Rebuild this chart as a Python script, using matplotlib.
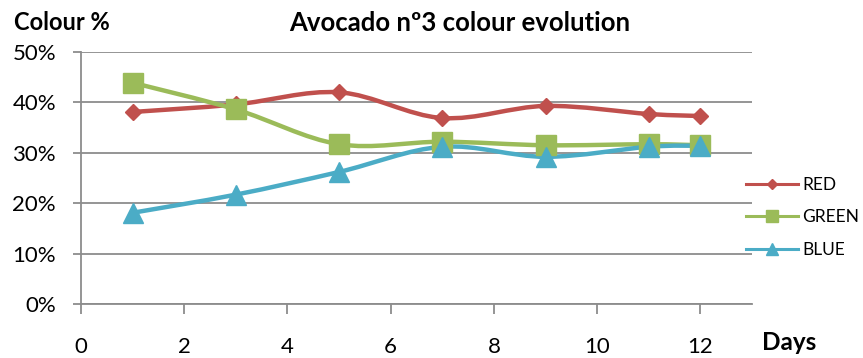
import numpy as np
import matplotlib.pyplot as plt
from matplotlib.path import Path
from matplotlib.patches import PathPatch
from matplotlib.lines import Line2D

days = [1, 3, 5, 7, 9, 11, 12]
red = [38.1, 39.6, 42.0, 36.9, 39.3, 37.7, 37.3]
green = [43.9, 38.6, 31.7, 32.2, 31.5, 31.7, 31.5]
blue = [18.1, 21.7, 26.2, 31.2, 29.2, 31.2, 31.4]

series = [
    ("RED", red, "#C0504D", "D", 8),
    ("GREEN", green, "#9BBB59", "s", 14),
    ("BLUE", blue, "#4BACC6", "^", 14),
]

plt.rcParams['font.family'] = ['Lato', 'DejaVu Sans']


def smooth_path(x, y):
    # cubic bezier through the points, same idea as a spreadsheet "smoothed line"
    pts = np.column_stack([x, y]).astype(float)
    n = len(pts)
    verts = [pts[0]]
    codes = [Path.MOVETO]
    for i in range(n - 1):
        p0 = pts[i - 1] if i > 0 else pts[i]
        p1 = pts[i]
        p2 = pts[i + 1]
        p3 = pts[i + 2] if i + 2 < n else pts[i + 1]
        c1 = p1 + (p2 - p0) / 6.0
        c2 = p2 - (p3 - p1) / 6.0
        verts += [c1, c2, p2]
        codes += [Path.CURVE4] * 3
    return Path(verts, codes)


fig = plt.figure(figsize=(8.63, 3.58), dpi=100)
ax = fig.add_axes([81 / 863, 1 - 304 / 358, (752 - 81) / 863, (304 - 52) / 358])

ax.set_xlim(0, 13)
ax.set_ylim(0, 50)
ax.set_xticks(range(0, 13, 2))
ax.set_yticks(range(0, 51, 10))
ax.set_yticklabels([f"{v}%" for v in range(0, 51, 10)])

ax.grid(axis="y", color="#8C8C8C", linewidth=1.3)
ax.set_axisbelow(True)
for s in ["top", "right"]:
    ax.spines[s].set_visible(False)
for s in ["left", "bottom"]:
    ax.spines[s].set_color("#8C8C8C")
    ax.spines[s].set_linewidth(1.3)
ax.tick_params(axis="x", length=7, width=1.3, color="#8C8C8C", labelsize=16, pad=17)
ax.tick_params(axis="y", length=6, width=1.3, color="#8C8C8C", labelsize=16, pad=12)

handles = []
for name, vals, col, mk, ms in series:
    ax.add_patch(PathPatch(smooth_path(days, vals), facecolor="none", edgecolor=col,
                           linewidth=3.2, capstyle="round", joinstyle="round", zorder=3))
    ax.plot(days, vals, linestyle="none", marker=mk, markersize=ms, color=col, zorder=4)
    handles.append(Line2D([], [], color=col, linewidth=2.2, marker=mk, markersize=ms * 0.6))

fig.legend(handles, [h[0] for h in series], loc="upper left", bbox_to_anchor=(737 / 863, 1 - 168 / 358),
           frameon=False, fontsize=12.5, handlelength=3.0, handletextpad=0.25, labelspacing=0.95,
           borderpad=0)

fig.text(460 / 863, 1 - 23 / 358, "Avocado nº3 colour evolution", ha="center", va="center",
         fontsize=18.5, fontweight="bold")
fig.text(14 / 863, 1 - 23 / 358, "Colour %", ha="left", va="center", fontsize=17, fontweight="bold")
fig.text(762 / 863, 1 - 342 / 358, "Days", ha="left", va="center", fontsize=17.5, fontweight="bold")

fig.savefig("out.png", dpi=100)
